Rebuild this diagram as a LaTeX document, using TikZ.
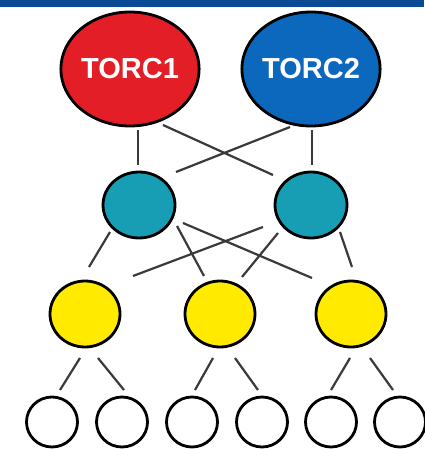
\documentclass[tikz,border=0pt]{standalone}
\usepackage{fontspec}
\setmainfont{Liberation Sans}
\usetikzlibrary{shapes.geometric,calc}
\definecolor{barblue}{HTML}{0A4A94}
\definecolor{torcred}{HTML}{E41E26}
\definecolor{torcblue}{HTML}{0B68BC}
\definecolor{tealfill}{HTML}{189EB4}
\definecolor{yellowfill}{HTML}{FFEA00}
\definecolor{linkgray}{HTML}{3A3A3A}
\tikzset{
  blob/.style={ellipse, draw=black, line width=2.8pt, inner sep=0pt},
  torc/.style={blob, minimum width=128pt, minimum height=114pt,
    text=white, font=\fontsize{29}{29}\selectfont\bfseries},
  hub/.style={blob, fill=tealfill, minimum width=72pt, minimum height=66pt},
  mid/.style={blob, fill=yellowfill, minimum width=70pt, minimum height=66pt},
  leaf/.style={blob, fill=white, minimum width=51pt, minimum height=50pt},
  link/.style={draw=linkgray, line width=2.2pt}
}
\begin{document}
\begin{tikzpicture}[x=1pt, y=-1pt]
\useasboundingbox (0,0) rectangle (424,449);
\fill[white] (0,0) rectangle (424,449);
\fill[barblue] (0,0) rectangle (424,7);

% top complexes
\node[torc, fill=torcred]  (t1) at (130,69) {TORC1};
\node[torc, fill=torcblue] (t2) at (311,69) {TORC2};

% second tier
\node[hub] (a1) at (139,205) {};
\node[hub] (a2) at (311,205) {};

% third tier
\node[mid] (b1) at (85,314) {};
\node[mid] (b2) at (220,314) {};
\node[mid] (b3) at (351,314) {};

% bottom tier
\node[leaf] (c1) at (52,422) {};
\node[leaf] (c2) at (122,422) {};
\node[leaf] (c3) at (192,422) {};
\node[leaf] (c4) at (262,422) {};
\node[leaf] (c5) at (331,422) {};
\node[leaf] (c6) at (400,422) {};

% links between tiers (short segments that stop short of the borders)
\draw[link] ($(t1)+(8,61)$)   -- ($(a1)+(-1,-40)$);
\draw[link] ($(t2)+(1,61)$)   -- ($(a2)+(1,-40)$);
\draw[link] ($(t1)+(33,56)$)  -- ($(a2)+(-38,-30)$);
\draw[link] ($(t2)+(-21,58)$) -- ($(a1)+(37,-33)$);

\draw[link] ($(a1)+(-29,27)$) -- ($(b1)+(4,-47)$);
\draw[link] ($(a1)+(38,21)$)  -- ($(b2)+(-16,-38)$);
\draw[link] ($(a1)+(44,18)$)  -- ($(b3)+(-39,-36)$);
\draw[link] ($(a2)+(-48,22)$) -- ($(b1)+(48,-38)$);
\draw[link] ($(a2)+(-33,28)$) -- ($(b2)+(22,-37)$);
\draw[link] ($(a2)+(29,27)$)  -- ($(b3)+(1,-47)$);

\draw[link] ($(b1)+(-5,44)$)  -- ($(c1)+(8,-32)$);
\draw[link] ($(b1)+(13,44)$)  -- ($(c2)+(2,-32)$);
\draw[link] ($(b2)+(-7,44)$)  -- ($(c3)+(3,-32)$);
\draw[link] ($(b2)+(15,44)$)  -- ($(c4)+(-4,-32)$);
\draw[link] ($(b3)+(-1,44)$)  -- ($(c5)+(0,-32)$);
\draw[link] ($(b3)+(19,44)$)  -- ($(c6)+(-7,-32)$);
\end{tikzpicture}
\end{document}
